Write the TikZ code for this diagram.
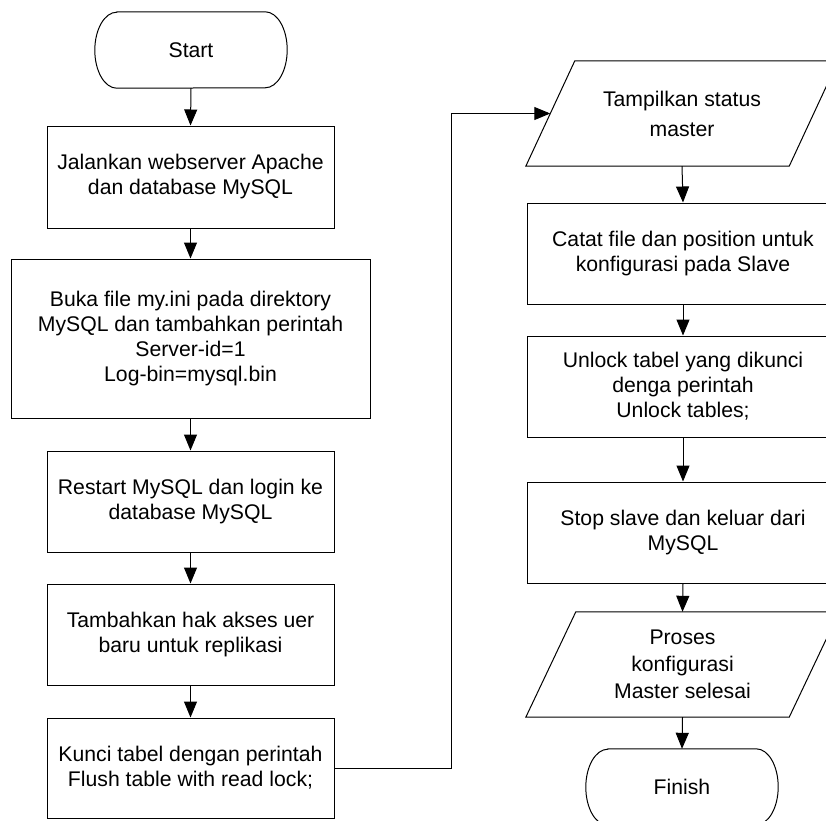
\documentclass[tikz,border=0pt]{standalone}
\usepackage{fontspec}
\setmainfont{Liberation Sans}
\usetikzlibrary{arrows.meta}
\tikzset{
  every node/.style={font=\fontsize{21.2}{25}\selectfont, align=center, inner sep=0pt},
  procbox/.style={draw, line width=1pt, rectangle},
  plain/.style={rectangle},
  arr/.style={line width=1pt, -{Triangle[width=13pt,length=16pt]}},
  outline/.style={line width=1pt},
}
\begin{document}
\begin{tikzpicture}[x=1pt,y=-1pt]
\useasboundingbox (0,0) rectangle (826,820);
\clip (0,0) rectangle (826,820);
\fill[white] (0,0) rectangle (826,820);

% left column
\node[plain, minimum width=192pt, minimum height=76pt] (start) at (191,50) {Start};
\draw[outline] ([xshift=22pt]start.north west) -- ([xshift=-22pt]start.north east)
  arc[start angle=90, end angle=-90, x radius=22pt, y radius=38pt]
  -- ([xshift=22pt]start.south west)
  arc[start angle=270, end angle=90, x radius=22pt, y radius=38pt] -- cycle;

\node[procbox, minimum width=287pt, minimum height=102pt] (k1) at (190.5,177)
  {Jalankan webserver Apache\\dan database MySQL};
\node[procbox, minimum width=359pt, minimum height=159pt] (k2) at (190.5,338.5)
  {Buka file my.ini pada direktory\\MySQL dan tambahkan perintah\\Server-id=1\\Log-bin=mysql.bin};
\node[procbox, minimum width=287pt, minimum height=101pt] (k3) at (190.5,501.5)
  {Restart MySQL dan login ke\\database MySQL};
\node[procbox, minimum width=287pt, minimum height=101pt] (k4) at (190.5,634.5)
  {Tambahkan hak akses uer\\baru untuk replikasi};
\node[procbox, minimum width=287pt, minimum height=100pt] (k5) at (190.5,768)
  {Kunci tabel dengan perintah\\Flush table with read lock;};

% right column
\node[plain, minimum width=263pt, minimum height=105pt, font=\fontsize{21.2}{30}\selectfont] (p1) at (682,113.5)
  {Tampilkan status\\master};
\draw[outline] ([xshift=-24.5pt]p1.south west) -- ([xshift=-24.5pt]p1.south east)
  -- ([xshift=24.5pt]p1.north east) -- ([xshift=24.5pt]p1.north west) -- cycle;

\node[procbox, minimum width=312pt, minimum height=101pt] (r1) at (683,253.5)
  {Catat file dan position untuk\\konfigurasi pada Slave};
\node[procbox, minimum width=312pt, minimum height=101pt] (r2) at (683,386.5)
  {Unlock tabel yang dikunci\\denga perintah\\Unlock tables;};
\node[procbox, minimum width=312pt, minimum height=101pt] (r3) at (683,532.5)
  {Stop slave dan keluar dari\\MySQL};

\node[plain, minimum width=263pt, minimum height=105pt, font=\fontsize{21.2}{27}\selectfont] (p2) at (682.5,664.5)
  {Proses\\konfigurasi\\Master selesai};
\draw[outline] ([xshift=-25pt]p2.south west) -- ([xshift=-25pt]p2.south east)
  -- ([xshift=25pt]p2.north east) -- ([xshift=25pt]p2.north west) -- cycle;

\node[plain, minimum width=192pt, minimum height=76pt] (finish) at (682,787) {Finish};
\draw[outline] ([xshift=22pt]finish.north west) -- ([xshift=-22pt]finish.north east)
  arc[start angle=90, end angle=-90, x radius=22pt, y radius=38pt]
  -- ([xshift=22pt]finish.south west)
  arc[start angle=270, end angle=90, x radius=22pt, y radius=38pt] -- cycle;

% connectors
\draw[arr] (start.south) -- (k1.north);
\draw[arr] (k1.south) -- (k2.north);
\draw[arr] (k2.south) -- (k3.north);
\draw[arr] (k3.south) -- (k4.north);
\draw[arr] (k4.south) -- (k5.north);
\coordinate (bend) at (451,113.5);
\draw[arr] (k5.east) -| (bend) -- (p1.west);
\draw[arr] (p1.south) -- (r1.north);
\draw[arr] (r1.south) -- (r2.north);
\draw[arr] (r2.south) -- (r3.north);
\draw[arr] (r3.south) -- (p2.north);
\draw[arr] (p2.south) -- (finish.north);
\end{tikzpicture}
\end{document}
